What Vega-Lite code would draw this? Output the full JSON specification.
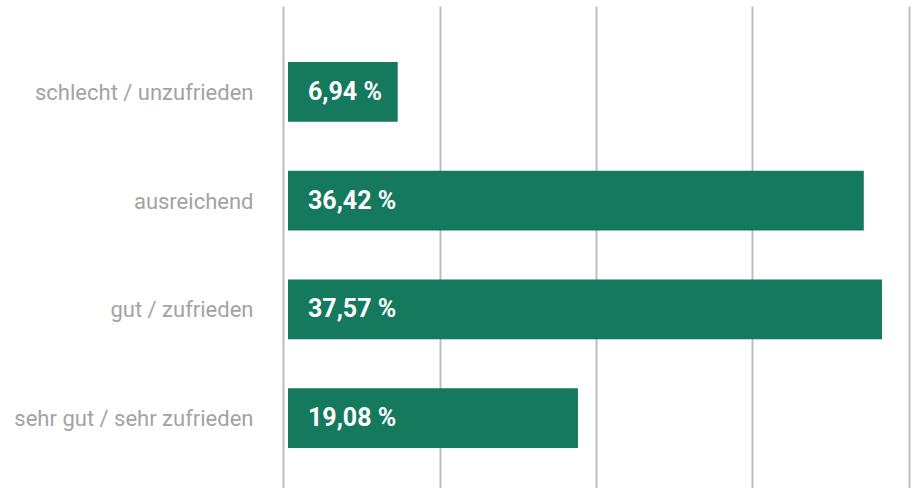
{
  "$schema": "https://vega.github.io/schema/vega-lite/v6.json",
  "width": 626,
  "height": 482,
  "autosize": "none",
  "padding": {"left": 283, "top": 6, "right": 5, "bottom": 0},
  "background": "white",
  "config": {"view": {"stroke": null}},
  "data": {
    "values": [
      {"kategorie": "schlecht / unzufrieden", "anteil": 6.94, "balken": 6.94, "label": "6,94 %"},
      {"kategorie": "ausreichend", "anteil": 36.42, "balken": 36.42, "label": "36,42 %"},
      {"kategorie": "gut / zufrieden", "anteil": 37.57, "balken": 37.57, "label": "37,57 %"},
      {"kategorie": "sehr gut / sehr zufrieden", "anteil": 19.08, "balken": 18.34, "label": "19,08 %"}
    ]
  },
  "encoding": {
    "y": {
      "field": "kategorie",
      "type": "nominal",
      "sort": null,
      "scale": {"paddingInner": 0.45, "paddingOuter": 0.442, "align": 0.583},
      "axis": {
        "title": null,
        "domain": false,
        "ticks": false,
        "labelPadding": 30,
        "labelOffset": 1,
        "labelFont": "Roboto",
        "labelFontSize": 22,
        "labelColor": "#a3a3a3",
        "labelLimit": 400
      }
    }
  },
  "layer": [
    {
      "mark": {"type": "bar", "color": "#15795d"},
      "encoding": {
        "x": {
          "field": "balken",
          "type": "quantitative",
          "scale": {"domain": [-0.316, 39.28], "nice": false, "zero": false},
          "axis": {
            "title": null,
            "labels": false,
            "ticks": false,
            "domain": false,
            "values": [-0.316, 9.583, 19.482, 29.381, 39.28],
            "gridColor": "#bdbdbd",
            "gridWidth": 2,
            "gridOpacity": 1
          }
        }
      }
    },
    {
      "mark": {
        "type": "text",
        "align": "left",
        "baseline": "middle",
        "dx": 20,
        "dy": 0,
        "color": "white",
        "font": "Roboto",
        "fontSize": 25,
        "fontWeight": "bold"
      },
      "encoding": {
        "x": {"datum": 0, "type": "quantitative"},
        "text": {"field": "label"}
      }
    }
  ]
}
